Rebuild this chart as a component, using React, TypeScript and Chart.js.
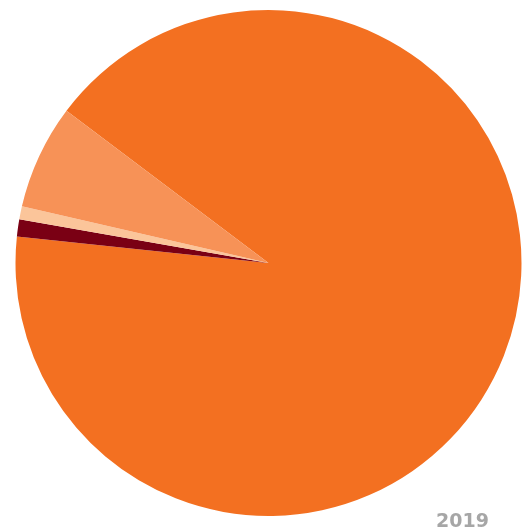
import React, { useEffect, useRef } from "react";
import { Chart, registerables } from "chart.js";

Chart.register(...registerables);

const labels = ["Category A", "Category B", "Category C", "Category D"];
const values = [91.39, 1.09, 0.83, 6.69];
const colors = ["#F37021", "#7A0014", "#FBC59A", "#F79257"];
const yearLabel = "2019";

export default function App() {
  const ref = useRef<HTMLCanvasElement | null>(null);
  useEffect(() => {
    if (!ref.current) return;
    const chart = new Chart(ref.current, {
      type: "pie",
      data: {
        labels,
        datasets: [
          {
            data: values,
            backgroundColor: colors,
            borderWidth: 0,
          },
        ],
      },
      options: {
        responsive: false,
        animation: false,
        rotation: 307.02,
        layout: { padding: { left: 10, right: 0, top: 10, bottom: 13 } },
        plugins: {
          legend: { display: false },
          tooltip: { enabled: false },
        },
      },
    });
    return () => chart.destroy();
  }, []);
  return (
    <div style={{ position: "fixed", left: 0, top: 0, width: 527, height: 529, background: "#fff" }}>
      <canvas ref={ref} width={527} height={529} style={{ display: "block" }} />
      <div
        style={{
          position: "absolute",
          left: 436,
          top: 510,
          fontFamily: "'DejaVu Sans', sans-serif",
          fontWeight: "bold",
          fontSize: 19,
          lineHeight: "20px",
          color: "#A6A6A6",
        }}
      >
        {yearLabel}
      </div>
    </div>
  );
}
